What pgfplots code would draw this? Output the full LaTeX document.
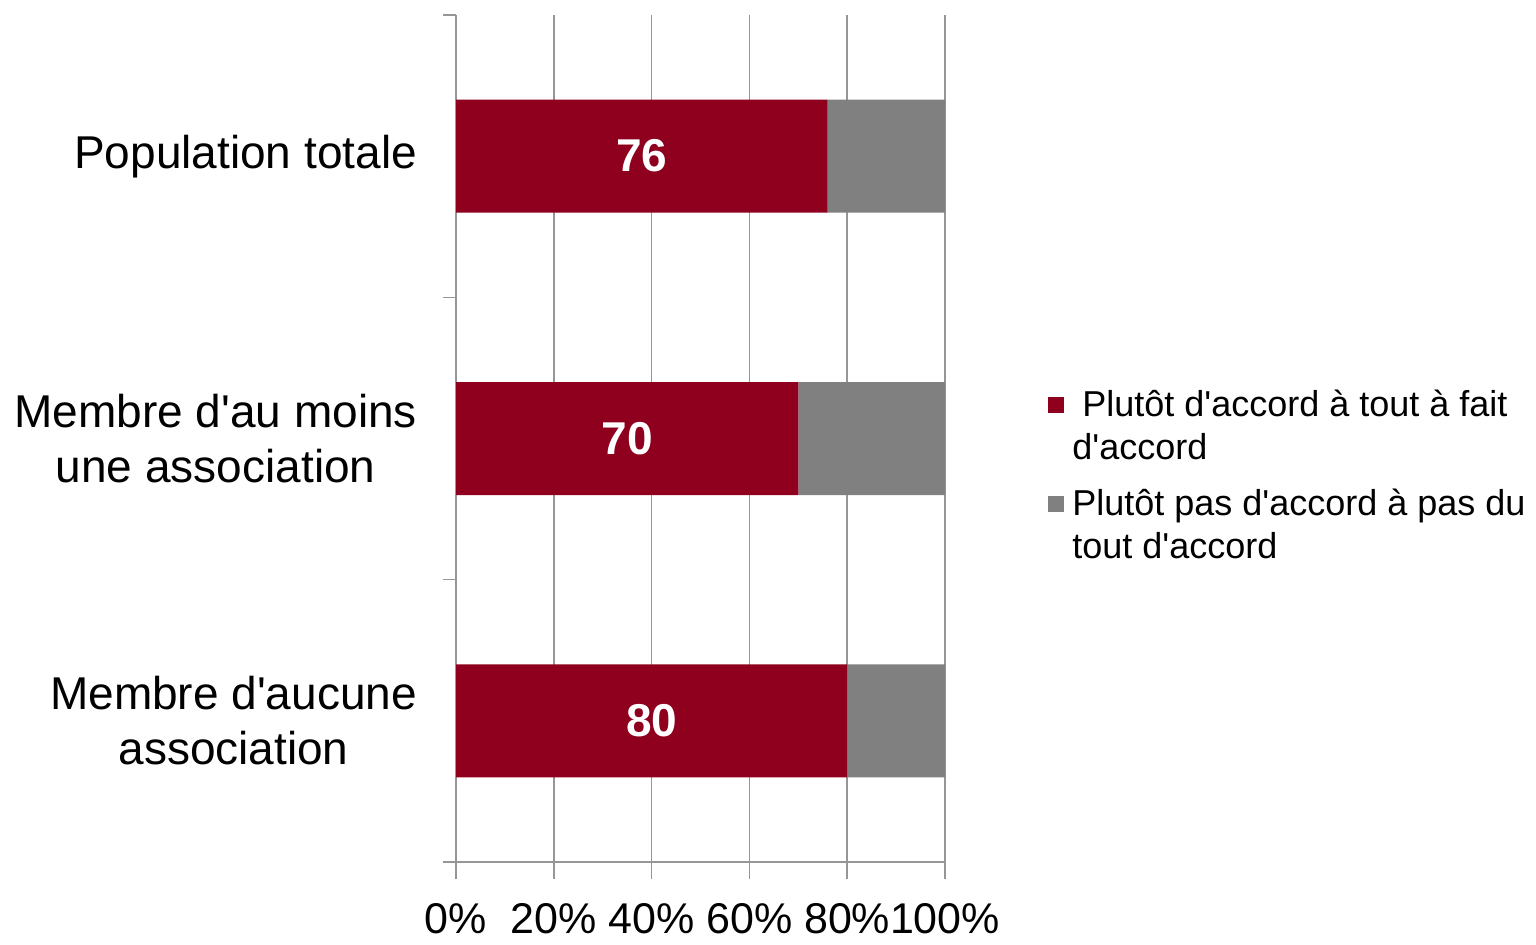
\documentclass[border=0pt]{standalone}
\usepackage{fontspec}
\setmainfont{Liberation Sans}
\usepackage{pgfplots}
\pgfplotsset{compat=1.18}
\definecolor{barred}{RGB}{142,0,30}
\definecolor{bargray}{RGB}{128,128,128}
\definecolor{gridgray}{RGB}{150,150,150}
\newcommand{\q}{\textquotesingle}
\begin{document}
\begin{tikzpicture}
\begin{axis}[
  at={(228pt,41pt)}, anchor=south west,
  scale only axis, width=244.5pt, height=423.5pt,
  xbar stacked, bar width=56.5pt,
  xmin=0, xmax=100, ymin=-0.5, ymax=2.5,
  xtick={0,20,40,60,80,100},
  xticklabel={\pgfmathprintnumber{\tick}\%},
  ytick={0,1,2},
  yticklabels={{Membre d\q aucune\\association},{Membre d\q au moins\\une association},{Population totale}},
  minor ytick={-0.5,0.5,1.5,2.5},
  tick align=outside,
  major tick length=8.5pt, minor tick length=6.5pt,
  tick style={gridgray, line width=0.8pt},
  major y tick style={draw=none},
  xmajorgrids, grid style={gridgray, line width=0.8pt},
  axis x line*=bottom, axis y line*=left,
  axis line style={gridgray, line width=0.8pt, -},
  /pgf/number format/assume math mode=true,
  xticklabel style={font=\fontsize{21.5}{25}\selectfont, text=black, yshift=-8.5pt},
  yticklabel style={font=\fontsize{23}{27.6}\selectfont, align=center, text=black, xshift=-7.5pt},
  legend cell align=left,
  legend style={draw=none, fill=none, at={(1,0.5)}, anchor=west, xshift=51.5pt, yshift=-18.5pt,
    inner sep=0pt, row sep=11pt, font=\fontsize{18}{21.5}\selectfont,
    nodes={align=left, inner ysep=1pt, inner xsep=4pt}},
]
\addplot[fill=barred, draw=none,
  legend image code/.code={\fill[barred] (0pt,6.5pt) rectangle (8pt,14.5pt);},
  nodes near coords={\pgfmathprintnumber{\pgfplotspointmeta}},
  point meta=x,
  every node near coord/.append style={anchor=center, text=white,
    font=\bfseries\fontsize{23}{27}\selectfont}]
  coordinates {(80,0) (70,1) (76,2)};
\addplot[fill=bargray, draw=none,
  legend image code/.code={\fill[bargray] (0pt,6.5pt) rectangle (8pt,14.5pt);}]
  coordinates {(20,0) (30,1) (24,2)};
\legend{{\hspace*{5pt}Plutôt d\q accord à tout à fait\\d\q accord},{Plutôt pas d\q accord à pas du\\tout d\q accord}}
\end{axis}
\pgfresetboundingbox
\useasboundingbox (0,0) rectangle (768pt,472pt);
\end{tikzpicture}
\end{document}
